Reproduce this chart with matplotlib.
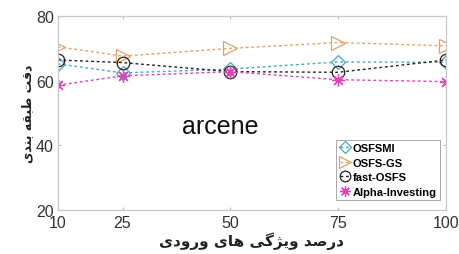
import matplotlib.pyplot as plt

# Data
x_vals = [10, 25, 50, 75, 100]
osfsmi = [65.2, 62.4, 63.6, 65.8, 65.7]
osfs_gs = [70.5, 67.6, 70.0, 71.8, 70.8]
fast_osfs = [66.4, 65.6, 62.8, 62.6, 66.4]
alpha_inv = [58.6, 61.5, 62.8, 60.3, 59.7]
series_names = ['OSFSMI', 'OSFS-GS', 'fast-OSFS', 'Alpha-Investing']
dataset_name = 'arcene'

# Persian labels, pre-shaped (presentation forms, visual order)
xlabel_fa = ('\uFBFC\uFEA9\uFEED\uFEAD\uFEED' + ' ' +
             '\uFBFC\uFE8E\uFEEB' + ' ' +
             '\uFBFD\uFB94\uFB8B\uFBFE\uFEED' + ' ' +
             '\uFEAA\uFEBB\uFEAD\uFEA9')
ylabel_fa = ('\uFBFC\uFEAA\uFEE8\uFE91' + ' ' +
             '\uFEEA\uFED8\uFE92\uFEC3' + ' ' +
             '\uFE96\uFED7\uFEA9')

plt.rcParams['font.family'] = ['Liberation Sans', 'DejaVu Sans']

fig = plt.figure(figsize=(4.59, 2.55), dpi=100)
ax = fig.add_axes([0.126, 0.173, 0.846, 0.76])

styles = [
    dict(color='#4aa6c4', marker='D', markersize=7),
    dict(color='#e8a062', marker='>', markersize=10),
    dict(color='#222222', marker='o', markersize=9),
    dict(color='#e040b8', marker=(8, 2, 0), markersize=9),
]
for vals, name, st in zip([osfsmi, osfs_gs, fast_osfs, alpha_inv], series_names, styles):
    ax.plot(x_vals, vals, linestyle=(0, (2, 2)), linewidth=1.0, color=st['color'],
            marker=st['marker'], markersize=st['markersize'],
            markerfacecolor='none', markeredgecolor=st['color'],
            markeredgewidth=0.9, label=name)

ax.set_xlim(10, 100)
ax.set_ylim(20, 80)
ax.set_xticks(x_vals)
ax.set_yticks([20, 40, 60, 80])
ax.tick_params(direction='in', length=2.5, labelsize=11.5, colors='#bbbbbb',
               labelcolor='#333333', top=True, right=True)
ax.tick_params(axis='x', pad=4)
ax.tick_params(axis='y', pad=3)
for s in ax.spines.values():
    s.set_color('#c8c8c8')
    s.set_linewidth(0.9)

ax.text(0.419, 0.433, dataset_name, transform=ax.transAxes, fontsize=18,
        ha='center', va='center', color='#111111')

ax.set_xlabel(xlabel_fa, family=['DejaVu Sans'], fontweight='bold',
              fontsize=11, color='#222222', labelpad=1)
ax.set_ylabel(ylabel_fa, family=['DejaVu Sans'], fontweight='bold',
              fontsize=9, color='#222222', labelpad=1)

leg = ax.legend(loc='lower right', bbox_to_anchor=(0.985, 0.05),
                prop={'weight': 'bold', 'size': 8},
                handlelength=1.0, handletextpad=0.2, labelspacing=0.42,
                borderpad=0.3, borderaxespad=0, fancybox=False,
                framealpha=1, edgecolor='#aaaaaa', markerscale=0.85)
leg.get_frame().set_linewidth(0.7)

plt.savefig('out.png', dpi=100)
